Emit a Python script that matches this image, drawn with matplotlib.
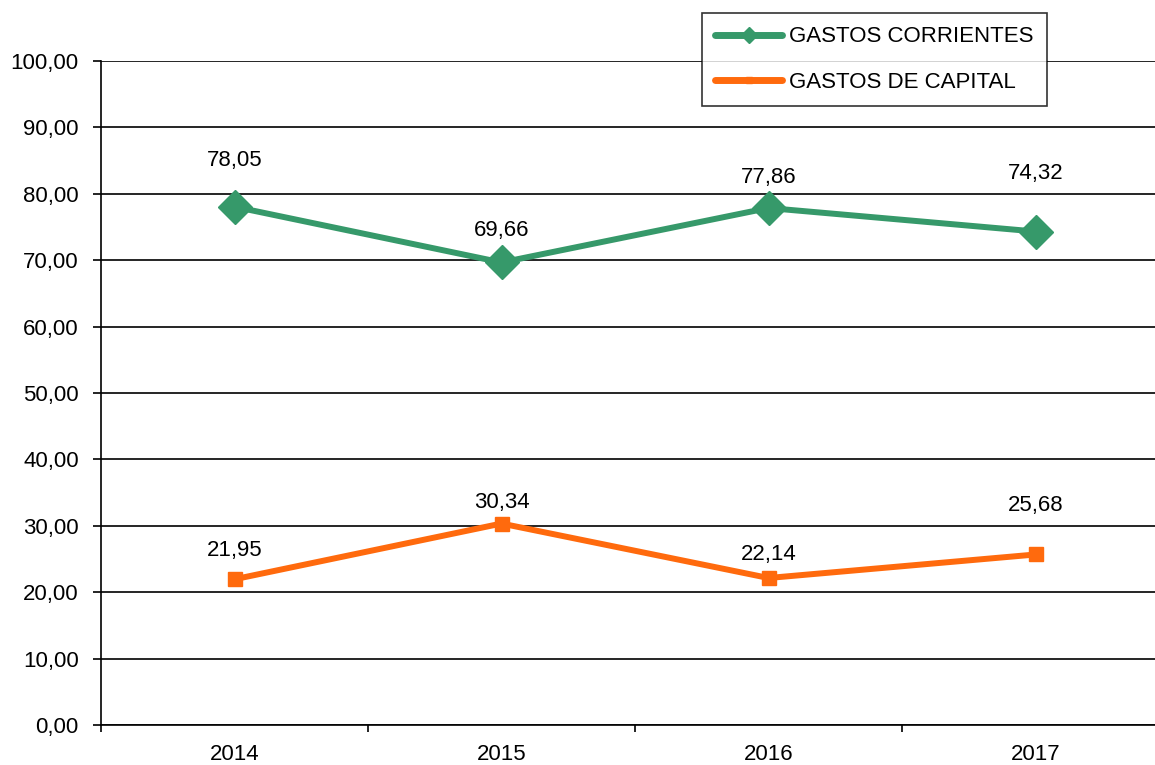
import numpy as np
import matplotlib.pyplot as plt
from matplotlib.ticker import FuncFormatter

plt.rcParams['font.family'] = ['Liberation Sans', 'DejaVu Sans']

years = ['2014', '2015', '2016', '2017']
corrientes = [78.05, 69.66, 77.86, 74.32]
capital = [21.95, 30.34, 22.14, 25.68]

# label offsets (points above marker)
off_corr = [33, 23, 22, 42]
off_cap = [21, 15, 17, 35]

fig = plt.figure(figsize=(11.55, 7.65), dpi=100)
ax = fig.add_axes([101 / 1155, 1 - 725 / 765, 1068 / 1155, 664 / 765])

x = np.arange(len(years))
green = '#36996A'
orange = '#FF6A0D'

ax.plot(x, corrientes, color=green, lw=4.3, marker='D', markersize=17,
        label='GASTOS CORRIENTES', solid_capstyle='round')
ax.plot(x, capital, color=orange, lw=4.3, marker='s', markersize=10,
        label='GASTOS DE CAPITAL', solid_capstyle='round')

fmt = lambda v: f'{v:.2f}'.replace('.', ',')
for xi, v, o in zip(x, corrientes, off_corr):
    ax.annotate(fmt(v), (xi, v), xytext=(0, o), textcoords='offset points',
                ha='center', va='center', fontsize=16)
for xi, v, o in zip(x, capital, off_cap):
    ax.annotate(fmt(v), (xi, v), xytext=(0, o), textcoords='offset points',
                ha='center', va='center', fontsize=16)

ax.set_xlim(-0.5, 3.5)
ax.set_ylim(0, 100)
ax.set_yticks(np.arange(0, 101, 10))
ax.yaxis.set_major_formatter(FuncFormatter(lambda v, p: fmt(v)))
ax.grid(axis='y', color='black', lw=1.2)
ax.set_axisbelow(True)

ax.set_xticks(np.arange(-0.5, 3.5, 1))
ax.set_xticklabels([])
ax.set_xticks(x, minor=True)
ax.set_xticklabels(years, minor=True)
ax.tick_params(axis='x', which='minor', length=0, pad=14, labelsize=16)
ax.tick_params(axis='x', which='major', length=5, width=1.2, direction='out')
ax.tick_params(axis='y', length=6, width=1.2, pad=10, labelsize=16)

for s in ['top', 'right']:
    ax.spines[s].set_visible(False)
for s in ['left', 'bottom']:
    ax.spines[s].set_linewidth(1.2)
    ax.spines[s].set_color('black')

leg = fig.legend(loc='upper left', bbox_to_anchor=(702 / 1155, 1 - 13 / 765),
                 fontsize=16, frameon=True, fancybox=False, markerscale=0.45,
                 handlelength=3.0, borderpad=0.6, labelspacing=1.1,
                 borderaxespad=0, handletextpad=0.3)
leg.get_frame().set_edgecolor('black')
leg.get_frame().set_linewidth(1.2)
for h in leg.get_lines():
    h.set_linewidth(5)

fig.savefig('out.png', dpi=100)
